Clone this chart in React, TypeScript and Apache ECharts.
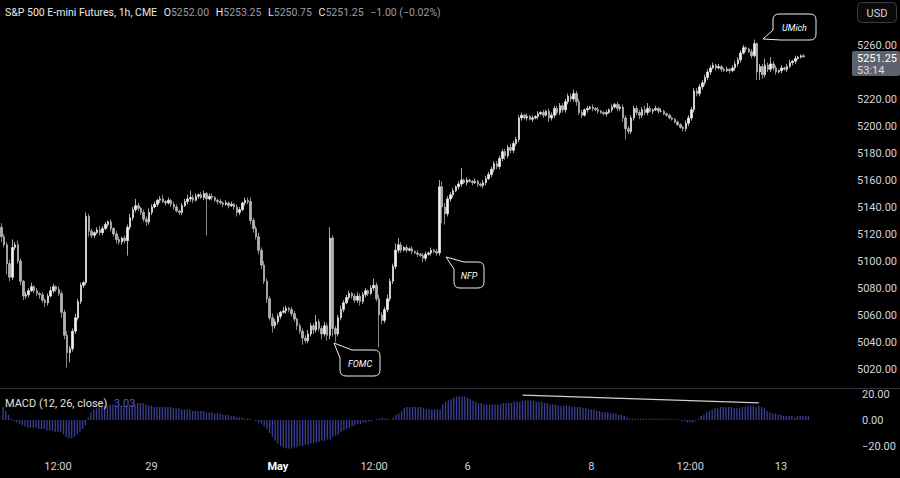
import React, { useEffect, useRef } from 'react';
import * as echarts from 'echarts';

const FONT = 'Roboto, "Noto Sans", sans-serif';
const TOTAL_SLOTS = 309;
const firstOpen = 5125;

// hourly closes
const closes = [
  5118, 5112, 5098, 5088, 5110, 5112, 5100, 5085, 5074, 5075, 5078, 5081, 5078, 5076, 5075, 5071, 5069, 5074, 5078, 5081,
  5079, 5076, 5062, 5045, 5032, 5035, 5048, 5058, 5070, 5082, 5084, 5133, 5122, 5119, 5121, 5123, 5121, 5124, 5127, 5129,
  5124, 5120, 5116, 5114, 5117, 5115, 5125, 5132, 5138, 5141, 5139, 5136, 5131, 5129, 5136, 5140, 5142, 5145, 5146, 5144,
  5143, 5145, 5142, 5140, 5137, 5136, 5141, 5144, 5146, 5147, 5145, 5148, 5149, 5147, 5150, 5146, 5148, 5147, 5145, 5144,
  5143, 5142, 5143, 5141, 5142, 5140, 5136, 5138, 5143, 5145, 5144, 5130, 5124, 5118, 5108, 5097, 5085, 5072, 5058, 5052,
  5055, 5059, 5062, 5063, 5065, 5064, 5061, 5057, 5052, 5048, 5043, 5041, 5046, 5052, 5049, 5055, 5050, 5046, 5052, 5045,
  5117, 5050, 5046, 5058, 5064, 5069, 5073, 5076, 5074, 5071, 5074, 5070, 5075, 5078, 5076, 5080, 5082, 5072, 5060, 5056,
  5064, 5072, 5085, 5096, 5108, 5112, 5108, 5110, 5108, 5109, 5107, 5106, 5105, 5104, 5102, 5105, 5106, 5108, 5107, 5106,
  5155, 5140, 5135, 5146, 5149, 5152, 5155, 5157, 5160, 5158, 5160, 5159, 5158, 5159, 5157, 5156, 5158, 5161, 5164, 5168,
  5172, 5170, 5176, 5181, 5178, 5184, 5182, 5187, 5190, 5206, 5208, 5206, 5207, 5205, 5206, 5207, 5209, 5210, 5208, 5211,
  5206, 5208, 5213, 5210, 5215, 5212, 5218, 5222, 5220, 5224, 5218, 5210, 5208, 5212, 5213, 5214, 5213, 5212, 5211, 5210,
  5209, 5210, 5212, 5214, 5216, 5213, 5214, 5206, 5198, 5196, 5206, 5213, 5210, 5208, 5212, 5210, 5213, 5211, 5212, 5213,
  5211, 5211, 5209, 5208, 5206, 5205, 5203, 5201, 5199, 5198, 5202, 5206, 5212, 5226, 5224, 5229, 5232, 5236, 5240, 5243,
  5245, 5243, 5244, 5242, 5241, 5242, 5241, 5243, 5246, 5249, 5254, 5258, 5257, 5255, 5252, 5261, 5240, 5244, 5238, 5245,
  5242, 5246, 5243, 5240, 5241, 5243, 5242, 5244, 5247, 5248, 5250, 5251, 5252, 5251.25,
];

// wick lengths above / below the body, in points
const upperWicks = [
  3, 2, 2, 3, 6, 2, 3, 2, 1, 2, 2, 3, 1, 2, 1, 2, 1, 2, 3, 2,
  1, 2, 2, 2, 3, 2, 2, 3, 2, 2, 1, 3, 2, 2, 1, 2, 3, 2, 2, 1,
  2, 1, 2, 2, 1, 2, 2, 3, 2, 5, 2, 1, 2, 2, 3, 2, 2, 1, 2, 3,
  1, 2, 1, 2, 2, 1, 2, 2, 3, 5, 2, 2, 1, 2, 2, 1, 2, 2, 1, 1,
  2, 1, 2, 1, 2, 1, 2, 2, 1, 2, 2, 3, 2, 2, 3, 2, 3, 2, 2, 3,
  2, 2, 1, 3, 2, 1, 2, 2, 1, 2, 2, 2, 3, 2, 2, 5, 2, 2, 3, 2,
  8, 2, 2, 2, 3, 2, 2, 2, 1, 2, 3, 2, 2, 2, 1, 2, 5, 2, 3, 2,
  2, 3, 2, 2, 5, 5, 2, 1, 2, 1, 2, 1, 2, 1, 2, 2, 1, 2, 1, 2,
  5, 4, 3, 2, 2, 2, 1, 2, 9, 1, 2, 1, 1, 2, 1, 1, 2, 2, 2, 2,
  2, 2, 2, 2, 2, 2, 3, 2, 2, 2, 2, 1, 2, 1, 2, 1, 2, 1, 2, 1,
  2, 2, 2, 2, 2, 2, 2, 2, 2, 3, 2, 2, 2, 1, 2, 1, 2, 1, 2, 1,
  1, 2, 1, 2, 1, 2, 2, 2, 2, 2, 2, 2, 2, 2, 2, 3, 4, 2, 1, 2,
  1, 2, 1, 1, 1, 1, 1, 1, 1, 1, 2, 2, 2, 2, 2, 2, 2, 2, 2, 2,
  2, 1, 2, 1, 1, 2, 1, 2, 2, 2, 2, 2, 1, 1, 2, 3, 1, 2, 2, 5,
  2, 5, 2, 2, 1, 2, 1, 2, 2, 1, 2, 1, 1, 1.25,
];
const lowerWicks = [
  4, 2, 8, 3, 2, 2, 2, 3, 3, 2, 2, 1, 2, 2, 3, 2, 3, 2, 1, 2,
  2, 2, 4, 3, 11, 7, 2, 2, 2, 2, 2, 2, 4, 2, 2, 1, 2, 2, 1, 2,
  2, 2, 3, 2, 2, 2, 11, 2, 2, 2, 2, 2, 2, 3, 2, 2, 1, 2, 2, 1,
  2, 1, 2, 2, 1, 2, 2, 1, 2, 2, 2, 1, 2, 1, 2, 27, 1, 2, 1, 2,
  1, 2, 1, 2, 1, 2, 3, 2, 1, 2, 2, 3, 3, 2, 3, 3, 2, 3, 2, 5,
  2, 2, 2, 1, 2, 2, 2, 2, 3, 2, 5, 2, 2, 2, 3, 2, 2, 4, 2, 4,
  3, 6, 6, 2, 2, 2, 1, 2, 2, 2, 2, 3, 2, 2, 2, 1, 2, 2, 24, 3,
  2, 2, 2, 2, 2, 2, 2, 1, 2, 1, 2, 1, 2, 1, 3, 2, 1, 2, 1, 2,
  2, 12, 8, 2, 2, 2, 1, 2, 2, 1, 2, 1, 2, 1, 2, 1, 2, 2, 1, 2,
  2, 2, 2, 2, 3, 2, 2, 2, 2, 2, 2, 1, 2, 1, 2, 1, 2, 1, 2, 1,
  3, 2, 2, 2, 2, 2, 2, 2, 2, 2, 3, 2, 2, 1, 2, 1, 2, 1, 2, 1,
  1, 2, 1, 2, 1, 2, 2, 3, 8, 2, 2, 2, 2, 3, 2, 2, 2, 1, 2, 1,
  2, 1, 1, 1, 1, 1, 1, 1, 1, 2, 2, 2, 2, 2, 2, 2, 2, 2, 2, 2,
  1, 2, 1, 2, 1, 1, 2, 1, 2, 2, 2, 1, 2, 1, 2, 1, 6, 6, 3, 2,
  2, 2, 2, 2, 1, 2, 1, 2, 1, 2, 2, 1, 1, 0.5,
];

// MACD histogram values
const macdHist = [
  10, 7, 4, 1, -1, -2, -3, -4, -5, -6, -6, -6, -6, -7, -7, -7, -8, -8, -8, -9,
  -9, -9, -11, -13, -14, -14, -13, -11, -9, -7, -4, 2, 6, 8, 9, 10, 11, 11, 11, 12,
  12, 11, 11, 11, 11, 11, 11, 12, 12, 13, 13, 13, 12, 11, 11, 10, 10, 10, 10, 10,
  10, 10, 9, 9, 9, 8, 8, 8, 8, 7, 7, 7, 7, 7, 6, 6, 6, 5, 5, 5,
  4, 4, 4, 3, 3, 2, 2, 2, 1, 1, 1, 0, -1, -2, -3, -5, -7, -10, -13, -16,
  -18, -20, -21, -22, -22, -22, -21, -21, -20, -20, -19, -19, -18, -18, -17, -17, -16, -16, -15, -15,
  -13, -12, -11, -9, -8, -7, -6, -5, -4, -3, -3, -2, -2, -1, -1, 0, 1, 1, 2, 1,
  1, 0, 2, 4, 5, 7, 9, 10, 10, 10, 10, 10, 10, 9, 8, 8, 8, 8, 8, 8,
  12, 14, 15, 16, 17, 18, 18, 18, 18, 17, 16, 15, 14, 13, 13, 12, 12, 12, 12, 12,
  12, 12, 13, 13, 13, 13, 14, 14, 14, 15, 15, 15, 15, 15, 14, 14, 14, 13, 13, 12,
  12, 12, 11, 11, 11, 11, 11, 10, 10, 10, 10, 9, 9, 8, 8, 8, 7, 7, 6, 6,
  6, 5, 5, 5, 4, 4, 3, 2, 1, 1, 1, 1, 1, 1, 1, 1, 1, 1, 1, 1,
  1, 1, 0.5, 0.5, 0.5, 0.5, 0.5, -1, -1, -2, -2, -2, -1, 1, 3, 4, 6, 7, 8, 9,
  9, 10, 10, 10, 10, 10, 9, 9, 9, 10, 10, 11, 11, 11, 10, 11, 10, 9, 7, 6,
  5, 5, 4, 4, 3, 3, 3, 3, 2, 3, 3, 3, 3, 3.03,
];

const timeTickIndex = [20, 54, 100, 135, 169, 214, 250, 283];
const timeTickText = ['12:00', '29', 'May', '12:00', '6', '8', '12:00', '13'];

// trend line drawn on the MACD pane: [barIndex, value]
const macdTrendStart = [189, 19.2];
const macdTrendEnd = [275, 13.1];

const bubbleFomc = 'M 352 350 L 374 350 Q 380 350 380 356 L 380 370 Q 380 376 374 376 L 346 376 Q 340 376 340 370 L 340 358 L 334 343 Z';
const bubbleNfp = 'M 464 262 L 478 262 Q 484 262 484 268 L 484 282 Q 484 288 478 288 L 460 288 Q 454 288 454 282 L 454 269 L 446 257 Z';
const bubbleUmich = 'M 773 30 L 773 20 Q 773 14 779 14 L 810 14 Q 816 14 816 20 L 816 34 Q 816 40 810 40 L 781 40 L 763 39 Z';

echarts.graphic.registerShape('bubbleFomc', echarts.graphic.extendPath(bubbleFomc, {}));
echarts.graphic.registerShape('bubbleNfp', echarts.graphic.extendPath(bubbleNfp, {}));
echarts.graphic.registerShape('bubbleUmich', echarts.graphic.extendPath(bubbleUmich, {}));

function buildCandles() {
  return closes.map((c, i) => {
    const o = i === 0 ? firstOpen : closes[i - 1];
    const hi = Math.max(o, c) + upperWicks[i];
    const lo = Math.min(o, c) - lowerWicks[i];
    return [o, c, lo, hi];
  });
}

function fmtSigned(v: number) {
  return (v < 0 ? '\u2212' : '') + Math.abs(v).toFixed(2);
}

export default function App() {
  const ref = useRef<HTMLDivElement>(null);
  useEffect(() => {
    document.body.style.margin = '0';
    document.body.style.background = '#000';
    const chart = echarts.init(ref.current!, null, { renderer: 'svg' });
    const categories = Array.from({ length: TOTAL_SLOTS }, (_, i) => 'b' + i);
    const labelAt: Record<number, string> = {};
    timeTickIndex.forEach((idx, k) => (labelAt[idx] = timeTickText[k]));
    const axisTextColor = '#d1d4dc';
    const textEl = (x: number, y: number, text: string, fill: string, size = 11, extra: any = {}) => ({
      type: 'text',
      x,
      y,
      z: 100,
      style: {
        text,
        fill,
        font: `${extra.italic ? 'italic ' : ''}${extra.weight || 'normal'} ${size}px ${FONT}`,
        textVerticalAlign: 'middle',
        textAlign: extra.align || 'left',
      },
    });
    const hl = '#e8e8e8';
    const gv = '#9a9da6';
    const option: any = {
      animation: false,
      backgroundColor: '#000000',
      textStyle: { fontFamily: FONT },
      grid: [
        { left: 0, right: 49, top: 18, height: 378 },
        { left: 0, right: 49, top: 394, height: 52 },
      ],
      xAxis: [
        {
          type: 'category', gridIndex: 0, data: categories, boundaryGap: true,
          axisLine: { show: false }, axisTick: { show: false }, axisLabel: { show: false }, splitLine: { show: false },
        },
        {
          type: 'category', gridIndex: 1, data: categories, boundaryGap: true,
          axisLine: { show: false }, axisTick: { show: false }, splitLine: { show: false },
          axisLabel: {
            interval: 0, color: axisTextColor, fontSize: 11, margin: 15, fontFamily: FONT,
            formatter: (_v: string, i: number) => {
              const t = labelAt[i];
              if (!t) return '';
              return t === 'May' ? '{b|May}' : t;
            },
            rich: { b: { fontWeight: 'bold', color: '#ffffff', fontSize: 11, fontFamily: FONT } },
          },
        },
      ],
      yAxis: [
        {
          type: 'value', gridIndex: 0, position: 'right', min: 5000, max: 5280, interval: 20,
          axisLine: { show: false }, axisTick: { show: false }, splitLine: { show: false },
          axisLabel: {
            color: axisTextColor, fontSize: 11, margin: 11, fontFamily: FONT,
            formatter: (v: number) => (v >= 5020 && v <= 5260 && v !== 5240 ? v.toFixed(2) : ''),
          },
        },
        {
          type: 'value', gridIndex: 1, position: 'right', min: -20, max: 20, interval: 20,
          axisLine: { show: false }, axisTick: { show: false }, splitLine: { show: false },
          axisLabel: { color: axisTextColor, fontSize: 11, margin: 11, fontFamily: FONT, formatter: (v: number) => fmtSigned(v) },
        },
      ],
      series: [
        {
          type: 'candlestick', xAxisIndex: 0, yAxisIndex: 0, data: buildCandles(), barWidth: 2,
          itemStyle: { color: '#f2f2f2', color0: '#b0b0b0', borderColor: '#f2f2f2', borderColor0: '#c4c4c4', borderWidth: 0.7 },
        },
        {
          type: 'bar', xAxisIndex: 1, yAxisIndex: 1, data: macdHist, barWidth: 1.3, clip: false,
          itemStyle: { color: '#3b3f98' },
          markLine: {
            silent: true, symbol: ['none', 'none'], label: { show: false },
            lineStyle: { color: '#cfcfcf', width: 1.2, type: 'solid' },
            data: [[{ coord: macdTrendStart }, { coord: macdTrendEnd }]],
          },
        },
      ],
      graphic: [
        { type: 'line', z: 50, shape: { x1: 0, y1: 388.5, x2: 900, y2: 388.5 }, style: { stroke: '#2f323b', lineWidth: 1 } },
        {
          type: 'text', x: 5, y: 12, z: 100,
          style: {
            text: '{t|S&P 500 E-mini Futures, 1h, CME}  {l|O}{v|5252.00}  {l|H}{v|5253.25}  {l|L}{v|5250.75}  {l|C}{v|5251.25}  {v|\u22121.00 (\u22120.02%)}',
            textVerticalAlign: 'middle',
            rich: {
              t: { fill: hl, fontSize: 10.5, fontFamily: FONT },
              l: { fill: hl, fontSize: 10.5, fontFamily: FONT },
              v: { fill: gv, fontSize: 10.5, fontFamily: FONT },
            },
          },
        },
        { type: 'rect', z: 100, shape: { x: 857.5, y: 2.5, width: 39, height: 20, r: 4 }, style: { fill: '#0a0a0a', stroke: '#3a3d46', lineWidth: 1 } },
        textEl(877, 13, 'USD', '#d1d4dc', 11, { align: 'center' }),
        { type: 'rect', z: 100, shape: { x: 852, y: 51, width: 48, height: 25, r: 2 }, style: { fill: '#5f626d' } },
        textEl(857, 58, '5251.25', '#ffffff', 11),
        textEl(857, 70, '53:14', '#dcdde2', 11),
        {
          type: 'text', x: 5, y: 403, z: 100,
          style: {
            text: '{a|MACD (12, 26, close)}  {b|3.03}', textVerticalAlign: 'middle',
            rich: { a: { fill: '#e0e0e0', fontSize: 11, fontFamily: FONT }, b: { fill: '#4a55c4', fontSize: 11, fontFamily: FONT } },
          },
        },
        { type: 'bubbleFomc', z: 100, style: { fill: '#000', stroke: '#f0f0f0', lineWidth: 1 } },
        { type: 'bubbleNfp', z: 100, style: { fill: '#000', stroke: '#f0f0f0', lineWidth: 1 } },
        { type: 'bubbleUmich', z: 100, style: { fill: '#000', stroke: '#f0f0f0', lineWidth: 1 } },
        textEl(360, 363.5, 'FOMC', '#ffffff', 9, { align: 'center', italic: true }),
        textEl(469, 275.5, 'NFP', '#ffffff', 9, { align: 'center', italic: true }),
        textEl(794.5, 27.5, 'UMich', '#ffffff', 9, { align: 'center', italic: true }),
      ],
    };
    chart.setOption(option);
    return () => chart.dispose();
  }, []);
  return <div ref={ref} style={{ position: 'absolute', left: 0, top: 0, width: 900, height: 478, background: '#000' }} />;
}
